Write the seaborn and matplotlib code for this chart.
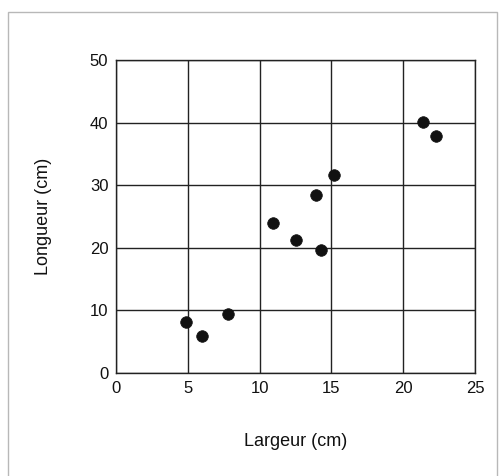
import matplotlib
matplotlib.use('Agg')
import matplotlib.pyplot as plt
import seaborn as sns
import pandas as pd
from matplotlib.patches import Rectangle

# values
largeur = [4.9, 6.0, 7.8, 10.9, 12.5, 13.9, 14.3, 15.2, 21.4, 22.3]
longueur = [8.1, 5.9, 9.4, 24.0, 21.3, 28.5, 19.6, 31.7, 40.1, 37.9]
x_ticks = [0, 5, 10, 15, 20, 25]
y_ticks = [0, 10, 20, 30, 40, 50]

df = pd.DataFrame({'Largeur': largeur, 'Longueur': longueur})

sns.set_style('white')
plt.rcParams['font.family'] = ['Liberation Sans', 'DejaVu Sans']

fig = plt.figure(figsize=(4.99, 4.76), dpi=100)
fig.patches.append(Rectangle((8 / 499, -0.05), 489 / 499, 1 - 12 / 476 + 0.05,
                             transform=fig.transFigure, fill=False,
                             edgecolor='#b8b8b8', linewidth=1.0))
ax = fig.add_axes([0.2325, 0.2164, 0.7195, 0.6576])

sns.scatterplot(data=df, x='Largeur', y='Longueur', ax=ax, color='#111111',
                s=70, edgecolor='#111111', linewidth=0.5, zorder=3)

ax.set_xlim(0, 25)
ax.set_ylim(0, 50)
ax.set_xticks(x_ticks)
ax.set_yticks(y_ticks)
ax.grid(True, color='#222222', linewidth=1.0)
ax.set_axisbelow(True)
for side in ax.spines.values():
    side.set_color('#222222')
    side.set_linewidth(1.0)
ax.tick_params(axis='both', direction='inout', length=5, width=1,
               color='#222222', labelcolor='#111111', labelsize=12, pad=3)
ax.set_xlabel('Largeur (cm)', fontsize=13, color='#111111', labelpad=27)
ax.set_ylabel('Longueur (cm)', fontsize=13, color='#111111', labelpad=27)

fig.savefig('out.png', dpi=100)
